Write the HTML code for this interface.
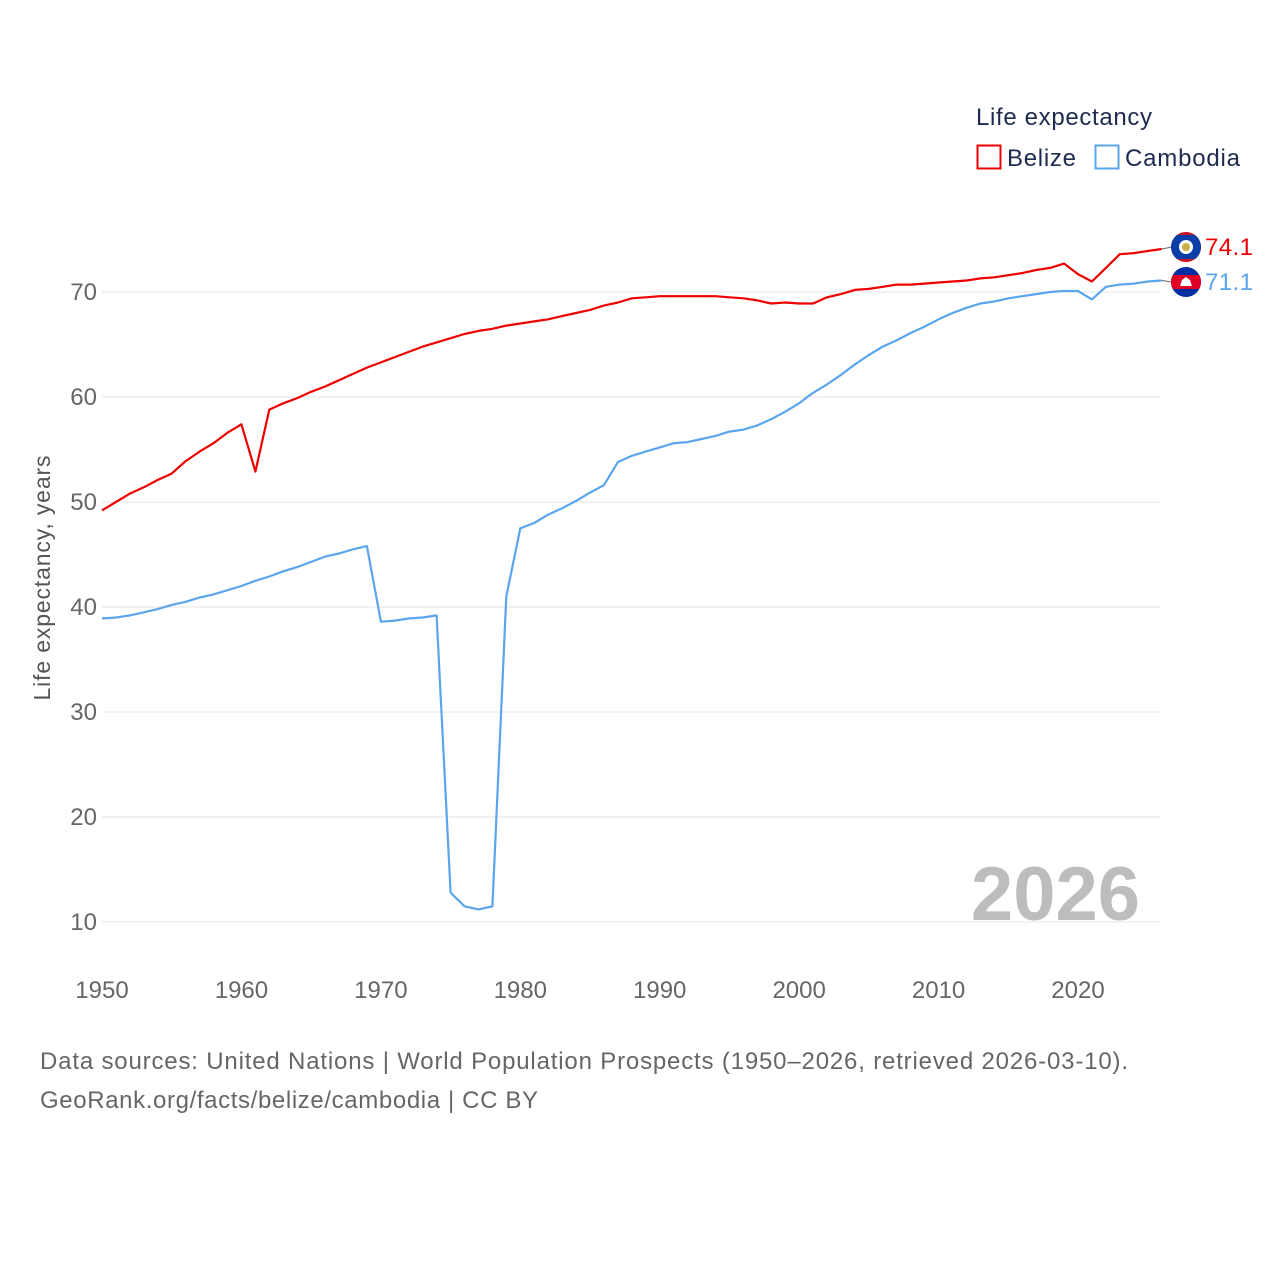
<!DOCTYPE html>
<html><head><meta charset="utf-8">
<style>
html,body{margin:0;padding:0;background:#fff;}
svg{display:block;font-family:"Liberation Sans",sans-serif;}
</style></head>
<body>
<svg id="chart" width="1280" height="1280" viewBox="0 0 1280 1280">
  <defs>
    <clipPath id="c1"><circle cx="1186" cy="247" r="15"/></clipPath>
    <clipPath id="c2"><circle cx="1186" cy="282" r="15"/></clipPath>
  </defs>
  <g id="grid"></g>
  <g id="yticks"></g>
  <g id="xticks"></g>
  <text x="50" y="578" transform="rotate(-90 50 578)" text-anchor="middle" font-size="23" fill="#555" textLength="245">Life expectancy, years</text>
  <text x="1140" y="920" text-anchor="end" font-size="76" font-weight="bold" fill="#bdbdbd">2026</text>
  <g id="series"></g>
  <g>
    <text x="976" y="125" font-size="24" fill="#1d2b4f" textLength="176">Life expectancy</text>
    <g>
      <rect x="977.5" y="145.5" width="23" height="23" fill="none" stroke="#ee0000" stroke-width="2"/>
      <text x="1007" y="166" font-size="24" fill="#1d2b4f" textLength="69">Belize</text>
    </g>
    <g>
      <rect x="1095.5" y="145.5" width="23" height="23" fill="none" stroke="#5aa5ec" stroke-width="2"/>
      <text x="1125" y="166" font-size="24" fill="#1d2b4f" textLength="115">Cambodia</text>
    </g>
  </g>
  <g id="endlabels"></g>
  <text x="40" y="1069" font-size="24" fill="#666" textLength="1088">Data sources: United Nations | World Population Prospects (1950–2026, retrieved 2026-03-10).</text>
  <text x="40" y="1108" font-size="24" fill="#666" textLength="498">GeoRank.org/facts/belize/cambodia | CC BY</text>
</svg>
<script>
const years = [];
for (let y = 1950; y <= 2026; y++) years.push(y);
const belize = [49.2,50.0,50.8,51.4,52.1,52.7,53.9,54.8,55.6,56.6,57.4,52.9,58.8,59.4,59.9,60.5,61.0,61.6,62.2,62.8,63.3,63.8,64.3,64.8,65.2,65.6,66.0,66.3,66.5,66.8,67.0,67.2,67.4,67.7,68.0,68.3,68.7,69.0,69.4,69.5,69.6,69.6,69.6,69.6,69.6,69.5,69.4,69.2,68.9,69.0,68.9,68.9,69.5,69.8,70.2,70.3,70.5,70.7,70.7,70.8,70.9,71.0,71.1,71.3,71.4,71.6,71.8,72.1,72.3,72.7,71.7,71.0,72.3,73.6,73.7,73.9,74.1];
const cambodia = [38.9,39.0,39.2,39.5,39.8,40.2,40.5,40.9,41.2,41.6,42.0,42.5,42.9,43.4,43.8,44.3,44.8,45.1,45.5,45.8,38.6,38.7,38.9,39.0,39.2,12.8,11.5,11.2,11.5,41.0,47.5,48.0,48.8,49.4,50.1,50.9,51.6,53.8,54.4,54.8,55.2,55.6,55.7,56.0,56.3,56.7,56.9,57.3,57.9,58.6,59.4,60.4,61.2,62.1,63.1,64.0,64.8,65.4,66.1,66.7,67.4,68.0,68.5,68.9,69.1,69.4,69.6,69.8,70.0,70.1,70.1,69.3,70.5,70.7,70.8,71.0,71.1];
const yTicks = [10,20,30,40,50,60,70];
const xTicks = [1950,1960,1970,1980,1990,2000,2010,2020];

const X = yr => 102 + (yr - 1950) * (976 / 70);
const Y = v => 922 - (v - 10) * 10.5;
const NS = "http://www.w3.org/2000/svg";
function mk(tag, attrs, parent) {
  const e = document.createElementNS(NS, tag);
  for (const k in attrs) e.setAttribute(k, attrs[k]);
  parent.appendChild(e);
  return e;
}
const grid = document.getElementById('grid');
const yt = document.getElementById('yticks');
yTicks.forEach(v => {
  const l = mk('line', {x1: 102, x2: 1161, y1: Y(v), y2: Y(v), stroke: '#e6e6e6', 'stroke-width': 1}, grid);
  
  
  const t = mk('text', {x: 97, y: Y(v) + 8, 'text-anchor': 'end', 'font-size': 24, fill: '#666'}, yt);
  t.textContent = v;
  
  
});
const xt = document.getElementById('xticks');
xTicks.forEach(v => {
  const t = mk('text', {x: X(v), y: 998, 'text-anchor': 'middle', 'font-size': 24, fill: '#666'}, xt);
  t.textContent = v;
  
  
});
const ser = document.getElementById('series');
function line(vals, color, name) {
  const d = vals.map((v, i) => (i ? 'L' : 'M') + X(years[i]).toFixed(1) + ' ' + Y(v).toFixed(1)).join(' ');
  const p = mk('path', {d: d, fill: 'none', stroke: color, 'stroke-width': 2.2, 'stroke-linejoin': 'round'}, ser);
  
  
}
line(cambodia, '#5aa5ec', 'cambodia-line');
line(belize, '#ee0000', 'belize-line');

const el = document.getElementById('endlabels');
function endLabel(val, ly, color, name, clip, flag) {
  const last = X(years[years.length - 1]);
  mk('line', {x1: last, y1: Y(val), x2: 1172, y2: ly, stroke: '#666', 'stroke-width': 1}, el);
  const g = mk('g', {'clip-path': 'url(#' + clip + ')'}, el);
  
  
  flag(g, 1186, ly);
  const t = mk('text', {x: 1205, y: ly + 8, 'font-size': 24, fill: color, textLength: 48}, el);
  t.textContent = val.toFixed(1);
  
  
}
endLabel(belize[belize.length - 1], 247, '#ee0000', 'belize', 'c1', (g, cx, cy) => {
  mk('rect', {x: cx - 15, y: cy - 15, width: 30, height: 30, fill: '#ce1126'}, g);
  mk('rect', {x: cx - 15, y: cy - 12, width: 30, height: 24, fill: '#0b3fa8'}, g);
  mk('circle', {cx, cy, r: 7, fill: '#fff'}, g);
  mk('circle', {cx, cy, r: 4, fill: '#c8b046'}, g);
});
endLabel(cambodia[cambodia.length - 1], 282, '#5aa5ec', 'cambodia', 'c2', (g, cx, cy) => {
  mk('rect', {x: cx - 15, y: cy - 15, width: 30, height: 30, fill: '#032ea1'}, g);
  mk('rect', {x: cx - 15, y: cy - 7, width: 30, height: 14, fill: '#e00025'}, g);
  mk('path', {d: `M${cx-6} ${cy+4} L${cx-4} ${cy-2} L${cx} ${cy-5} L${cx+4} ${cy-2} L${cx+6} ${cy+4} Z`, fill: '#fff'}, g);
});
</script>
</body></html>
